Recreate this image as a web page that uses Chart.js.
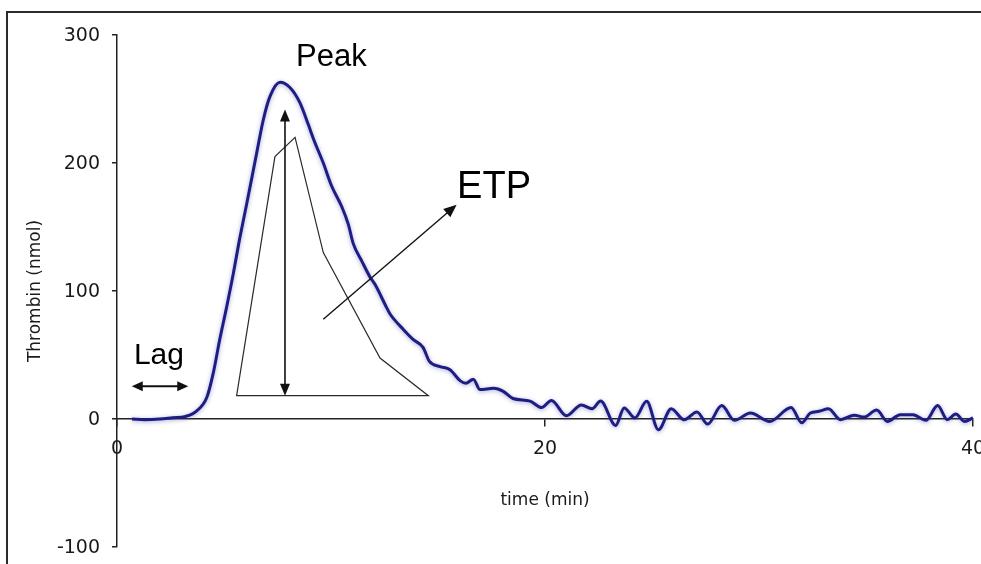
<!DOCTYPE html>
<html>
<head>
<meta charset="utf-8">
<script src="https://cdn.jsdelivr.net/npm/chart.js@4.4.0/dist/chart.umd.min.js"></script>
<style>
  html, body { margin: 0; padding: 0; background: #fff; overflow: hidden; }
  #wrap { position: relative; width: 981px; height: 564px; }
  #frame { position: absolute; left: 6px; top: 11px; width: 1100px; height: 700px;
           border: 2px solid #2b2b2b; box-sizing: border-box; pointer-events: none; }
  canvas { display: block; }
</style>
</head>
<body>
<div id="wrap">
  <canvas id="c" width="981" height="564"></canvas>
  <div id="frame"></div>
</div>
<script>
// Thrombin generation curve: time (min) vs thrombin (nmol)
const timeMin = [0.7, 1.3, 2.0, 2.6, 3.2, 3.7, 4.2, 4.5, 4.8, 5.13, 5.44, 5.7, 6.06, 6.53, 6.84, 7.15,
  7.62, 8.08, 8.55, 8.94, 9.2, 9.64, 10.03, 10.5, 10.81, 11.04, 11.45, 11.82, 12.06, 12.6, 12.76,
  13.38, 13.85, 14.3, 14.6, 15.1, 15.56, 16.03, 16.3, 16.65, 16.96, 17.6, 18.05, 18.5, 19.3, 19.84,
  20.3, 21.0, 21.7, 22.2, 22.6, 23.3, 23.7, 24.2, 24.75, 25.3, 25.9, 26.5, 27.1, 27.6, 28.26, 28.85,
  29.6, 30.5, 31.5, 32.0, 32.4, 32.8, 33.25, 33.8, 34.45, 34.9, 35.5, 36.0, 36.6, 37.2, 37.8, 38.35,
  38.8, 39.2, 39.6, 40.0];
const thrombin = [0, -0.5, 0, 1, 2, 6, 17, 36, 62, 88, 114, 138, 168, 208, 234, 252,
  263, 259, 247, 230, 218, 200, 182, 166, 152, 137, 123, 111, 105, 87, 82,
  70, 62, 56, 45, 41, 38.5, 30, 28, 31, 23, 24, 21.6, 16, 14, 9,
  14.5, 2.5, 11, 8, 14, -5, 8.6, 0.8, 13.8, -8.4, 8, -0.5, 5.5, -4, 10.5, -1,
  4.7, -1.9, 9, -3, 4.7, 6, 8, -0.5, 3, 1.5, 7, -1.9, 3.4, 3.4, -1, 10.5,
  -0.5, 4, -1.9, 0.8];

const xTicks = [0, 20, 40];
const yTicks = [-100, 0, 100, 200, 300];

// Schematic ETP triangle outline (time, thrombin)
const etpShapeTime = [5.59, 7.38, 8.32, 9.64, 12.29, 14.55];
const etpShapeValue = [18.2, 205, 220, 130, 47.6, 18.2];
// Peak height double arrow
const peakArrowTime = 7.85;
const peakArrowRange = [18.2, 241.7];
// ETP pointer arrow: [start, end] in (time, thrombin)
const etpArrowTime = [9.64, 15.87];
const etpArrowValue = [78, 167.4];
// Lag-time double arrow
const lagArrowTime = [0.69, 3.33];
const lagArrowValue = 25.5;

// Labels: text, time, thrombin (baseline)
const labelText = ['Peak', 'ETP', 'Lag'];
const labelTime = [10.02, 17.62, 1.96];
const labelValue = [275.5, 172.9, 43.2];
const labelSize = [31, 38, 30];

function arrowHead(ctx, x1, y1, x2, y2, len, half) {
  const a = Math.atan2(y2 - y1, x2 - x1);
  const bx = x2 - len * Math.cos(a), by = y2 - len * Math.sin(a);
  ctx.beginPath();
  ctx.moveTo(x2, y2);
  ctx.lineTo(bx + half * Math.sin(a), by - half * Math.cos(a));
  ctx.lineTo(bx - half * Math.sin(a), by + half * Math.cos(a));
  ctx.closePath();
  ctx.fill();
}

function shaft(ctx, x1, y1, x2, y2, lenA, lenB) {
  const a = Math.atan2(y2 - y1, x2 - x1);
  ctx.beginPath();
  ctx.moveTo(x1 + lenA * Math.cos(a), y1 + lenA * Math.sin(a));
  ctx.lineTo(x2 - lenB * Math.cos(a), y2 - lenB * Math.sin(a));
  ctx.stroke();
}

const lineGlow = {
  id: 'lineGlow',
  beforeDatasetsDraw(chart) {
    const ctx = chart.ctx;
    ctx.save();
    ctx.shadowColor = 'rgba(80, 80, 180, 0.5)';
    ctx.shadowBlur = 4;
    ctx.shadowOffsetY = 1;
  },
  afterDatasetsDraw(chart) {
    chart.ctx.restore();
  }
};

const overlay = {
  id: 'overlay',
  afterDraw(chart) {
    const ctx = chart.ctx;
    const xs = chart.scales.x, ys = chart.scales.y;
    const X = v => xs.getPixelForValue(v);
    const Y = v => ys.getPixelForValue(v);
    ctx.save();
    ctx.strokeStyle = '#2a2a2a';
    ctx.fillStyle = '#111';
    ctx.lineJoin = 'miter';

    // ETP outline
    ctx.lineWidth = 1.2;
    ctx.beginPath();
    etpShapeTime.forEach((t, i) => {
      const px = X(t), py = Y(etpShapeValue[i]);
      if (i === 0) ctx.moveTo(px, py); else ctx.lineTo(px, py);
    });
    ctx.closePath();
    ctx.stroke();

    // Peak double arrow
    ctx.strokeStyle = '#111';
    ctx.lineWidth = 1.6;
    const px = X(peakArrowTime), pTop = Y(peakArrowRange[1]), pBot = Y(peakArrowRange[0]);
    shaft(ctx, px, pBot, px, pTop, 6, 6);
    arrowHead(ctx, px, pBot, px, pTop, 12, 5);
    arrowHead(ctx, px, pTop, px, pBot, 12, 5);

    // ETP pointer arrow
    ctx.lineWidth = 1.4;
    const ex1 = X(etpArrowTime[0]), ey1 = Y(etpArrowValue[0]);
    const ex2 = X(etpArrowTime[1]), ey2 = Y(etpArrowValue[1]);
    shaft(ctx, ex1, ey1, ex2, ey2, 0, 8);
    arrowHead(ctx, ex1, ey1, ex2, ey2, 13, 5.5);

    // Lag double arrow
    ctx.lineWidth = 2;
    const lx1 = X(lagArrowTime[0]), lx2 = X(lagArrowTime[1]), ly = Y(lagArrowValue);
    shaft(ctx, lx1, ly, lx2, ly, 6, 6);
    arrowHead(ctx, lx2, ly, lx1, ly, 11, 5);
    arrowHead(ctx, lx1, ly, lx2, ly, 11, 5);

    // Text labels
    ctx.fillStyle = '#000';
    ctx.textAlign = 'center';
    ctx.textBaseline = 'alphabetic';
    labelText.forEach((txt, i) => {
      ctx.font = labelSize[i] + 'px "Liberation Sans", Arial, sans-serif';
      ctx.fillText(txt, X(labelTime[i]), Y(labelValue[i]));
    });
    ctx.restore();
  }
};

const tickFont = { family: '"DejaVu Sans", sans-serif', size: 19 };
const titleFont = { family: '"DejaVu Sans", sans-serif', size: 17 };

new Chart(document.getElementById('c'), {
  type: 'line',
  data: {
    datasets: [{
      data: timeMin.map((t, i) => ({ x: t, y: thrombin[i] })),
      borderColor: '#1e1e82',
      borderWidth: 3,
      pointRadius: 0,
      fill: false,
      cubicInterpolationMode: 'monotone'
    }]
  },
  options: {
    responsive: false,
    animation: false,
    devicePixelRatio: 1,
    layout: { padding: { left: 0, top: 35, right: 8, bottom: 17 } },
    plugins: { legend: { display: false }, tooltip: { enabled: false } },
    scales: {
      x: {
        type: 'linear',
        min: 0, max: 40,
        position: { y: 0 },
        afterBuildTicks: s => { s.ticks = xTicks.map(v => ({ value: v })); },
        afterFit: s => { s.paddingLeft = 0; s.paddingRight = 0; },
        grid: { drawOnChartArea: false, drawTicks: true, tickLength: 7, color: '#222', lineWidth: 1.5 },
        border: { display: true, color: '#222', width: 1.5 },
        ticks: { font: tickFont, color: '#1a1a1a', padding: 12, maxRotation: 0, autoSkip: false },
        title: { display: true, text: 'time (min)', font: titleFont, color: '#1a1a1a', padding: { top: 18, bottom: 0 } }
      },
      y: {
        type: 'linear',
        min: -100, max: 300,
        position: 'left',
        afterBuildTicks: s => { s.ticks = yTicks.map(v => ({ value: v })); },
        afterFit: s => { s.width = 117; s.paddingTop = 0; s.paddingBottom = 0; },
        grid: { drawOnChartArea: false, drawTicks: true, tickLength: 5, color: '#222', lineWidth: 1.5 },
        border: { display: true, color: '#222', width: 1.5 },
        ticks: { font: tickFont, color: '#1a1a1a', padding: 12, labelOffset: 1.5 },
        title: { display: true, text: 'Thrombin (nmol)', font: titleFont, color: '#1a1a1a', padding: { top: 25, bottom: 0 } }
      }
    }
  },
  plugins: [lineGlow, overlay]
});
</script>
</body>
</html>
